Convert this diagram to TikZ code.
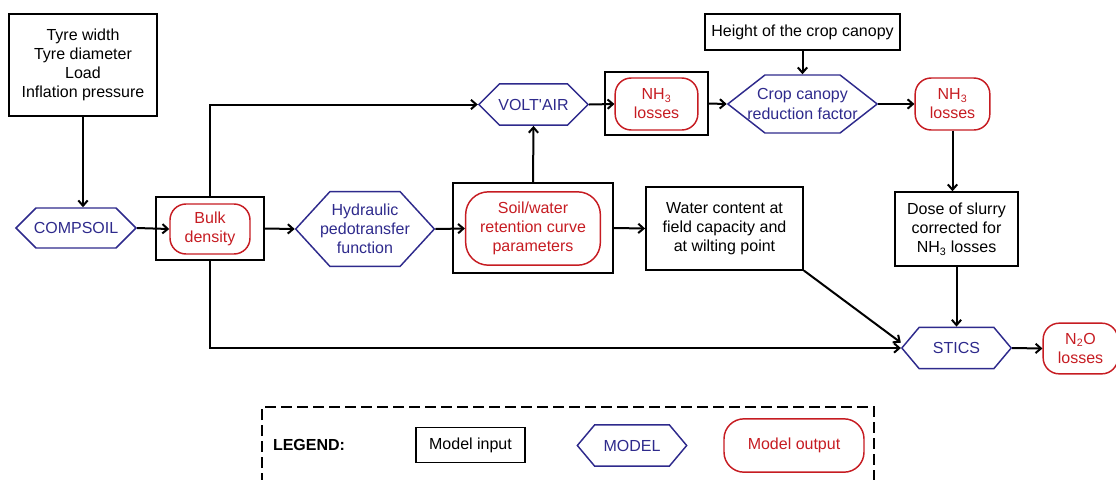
\documentclass[tikz,border=0pt]{standalone}
\usepackage{fontspec}
\setmainfont{Liberation Sans}
\usepackage{tikz}
\usetikzlibrary{shapes.symbols,arrows.meta}
\definecolor{modelblue}{RGB}{46,42,140}
\definecolor{outred}{RGB}{198,28,34}
\tikzset{
    every node/.style={font=\fontsize{12}{14.3}\selectfont, align=center,
    	inner sep=2pt}
}
\tikzset{
    input/.style={draw, line width=1.1pt},
    frame/.style={draw, line width=1.1pt},
    model/.style={signal, signal to=west and east, draw=modelblue,
    	text=modelblue, line width=1.1pt, inner xsep=-30pt},
    output/.style={draw=outred, text=outred, rounded corners=12pt,
    	line width=1.1pt},
    link/.style={line width=1.5pt, -{Straight Barb[length=4pt,width=7pt]}}
}
\tikzset{
	every edge/.append style={link}
}

\begin{document}
\begin{tikzpicture}[x=0.75pt, y=-0.75pt]
	\useasboundingbox (0,0) rectangle (1116,479);
	% inputs
	\node[input, minimum width=111pt, minimum height=76.5pt] (tyre) at (83,65)
		{Tyre width\\Tyre diameter\\Load\\Inflation pressure};
	\node[input, minimum width=146pt, minimum height=27pt] (height) at (802.5,32)
		{Height of the crop canopy};
	\node[input, minimum width=118pt, minimum height=62pt] (water) at (724.5,228.5)
		{Water content at\\field capacity and\\at wilting point};
	\node[input, minimum width=92pt, minimum height=55.5pt] (dose) at (956.5,229)
		{Dose of slurry\\corrected for\\NH\textsubscript{3} losses};
	% models
	\node[model, minimum width=90pt, minimum height=30pt] (compsoil) at (76,228)
		{COMPSOIL};
	\node[model, signal pointer angle=95, minimum width=104pt, minimum height=56pt]
		(hydraulic) at (365,229) {Hydraulic\\pedotransfer\\function};
	\node[model, minimum width=82pt, minimum height=31pt] (voltair) at (533.5,104.5)
		{VOLT\textquotesingle AIR};
	\node[model, signal pointer angle=76, minimum width=112pt, minimum height=43.5pt]
		(canopy) at (802.5,104) {Crop canopy\\reduction factor};
	\node[model, signal pointer angle=100, minimum width=82pt, minimum height=31pt]
		(stics) at (956.5,348) {STICS};
	% outputs
	\node[frame, minimum width=81pt, minimum height=47.25pt] (bulkbox) at (210,228.5) {};
	\node[output, minimum width=60pt, minimum height=37.5pt] (bulk) at (210,229)
		{Bulk\\density};
	\node[frame, minimum width=120pt, minimum height=67.5pt] (soilbox) at (533,228) {};
	\node[output, rounded corners=17pt, minimum width=101pt, minimum height=55pt]
		(soil) at (533,228.5) {Soil/water\\retention curve\\parameters};
	\node[frame, minimum width=77pt, minimum height=47pt] (nh3box) at (656.5,103.5) {};
	\node[output, minimum width=62pt, minimum height=39pt] (nh3a) at (656.5,104)
		{NH\textsubscript{3}\\losses};
	\node[output, minimum width=56pt, minimum height=39pt] (nh3b) at (952.5,104)
		{NH\textsubscript{3}\\losses};
	\node[output, minimum width=56pt, minimum height=38pt] (n2o) at (1080.5,348.5)
		{N\textsubscript{2}O\\losses};

	\draw (tyre.south) edge (tyre.south |- compsoil.north);
	\draw (compsoil.east) edge (bulk.west);
	\draw (bulkbox.east) edge (hydraulic.west);
	\draw (hydraulic.east) edge (soil.west);
	\draw (soilbox.east) edge (water.west);
	\draw (soilbox.north) edge (voltair.south);
	\draw (voltair.east) edge (nh3a.west);
	\draw (nh3box.east) edge (canopy.west);
	\draw (height.south) edge (canopy.north);
	\draw (canopy.east) edge (nh3b.west);
	\draw (nh3b.south) edge (nh3b.south |- dose.north);
	\draw (dose.south) edge (stics.north);
	\draw (water.south east) edge ([yshift=4pt]stics.west);
	\draw (stics.east) edge (n2o.west);
	\draw[link] (bulkbox.north) |- (voltair.west);
	\draw[link] (bulkbox.south) |- (stics.west);

	% legend
	\draw[line width=1.5pt, dash pattern=on 8pt off 4pt]
		(262,500) -- (262,407) -- (874,407) -- (874,500);
	\node[font=\fontsize{12}{14.3}\selectfont\bfseries] (legend) at (309,445) {LEGEND:};
	\node[input, minimum width=82pt, minimum height=26pt] (leginput) at (470.5,445)
		{Model input};
	\node[model, signal pointer angle=100, minimum width=82pt, minimum height=31pt]
		(legmodel) at (632,445.5) {MODEL};
	\node[output, rounded corners=15pt, minimum width=105pt, minimum height=40pt]
		(legoutput) at (794,445.5) {Model output};
\end{tikzpicture}
\end{document}
